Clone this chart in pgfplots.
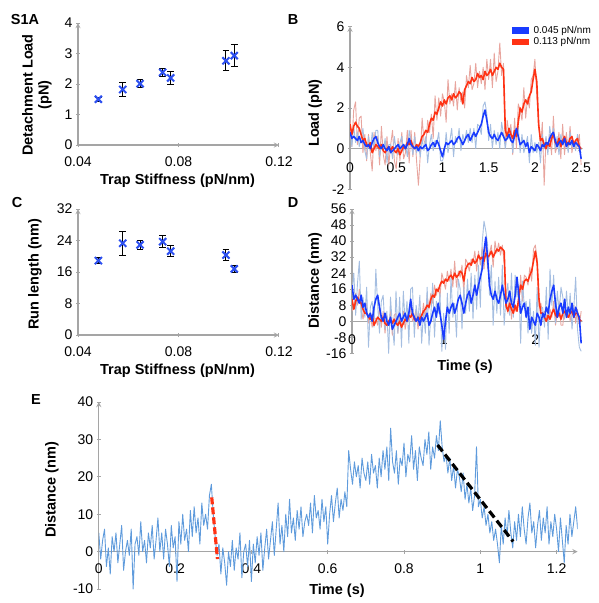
\documentclass[border=0pt]{standalone}
\usepackage{fontspec}
\setmainfont{Liberation Sans}
\usepackage{pgfplots}
\pgfplotsset{compat=1.18}
\usepackage{pgfplotstable}
\definecolor{dblue}{RGB}{25,60,255}
\definecolor{dred}{RGB}{255,50,20}
\definecolor{lblue}{RGB}{165,190,225}
\definecolor{lred}{RGB}{232,165,158}
\definecolor{eblue}{RGB}{95,155,220}
\definecolor{xblue}{RGB}{45,80,240}
\definecolor{axgray}{RGB}{165,165,165}

\pgfplotstableread{
x y e
0.0481 1.50 0.06
0.0578 1.82 0.23
0.0647 2.01 0.14
0.0737 2.38 0.14
0.0769 2.20 0.22
0.0989 2.76 0.33
0.1022 2.93 0.35
}\tabA

\pgfplotstableread{
x y e
0.0481 18.9 0.8
0.0578 23.3 3.1
0.0647 22.9 1.1
0.0737 23.7 1.5
0.0769 21.3 1.4
0.0989 20.3 1.3
0.1022 16.8 0.9
}\tabC

\pgfplotstableread{
t bs bn rs rn
0.00 0.8 1.1 1.2 1.5
0.02 0.5 0.1 0.7 0.1
0.04 0.6 1.1 1.1 1.9
0.06 0.5 0.3 1.3 2.3
0.08 0.4 0.8 1.1 0.2
0.10 0.6 0.1 1.0 1.5
0.12 0.3 0.5 0.7 1.6
0.14 0.4 1.0 0.4 -0.2
0.16 0.2 -0.1 0.5 0.7
0.18 0.1 -0.5 0.2 -0.6
0.20 0.2 0.6 0.1 0.7
0.22 0.0 -0.1 0.3 -0.2
0.24 0.3 0.8 -0.2 -1.1
0.26 0.5 0.1 0.0 0.8
0.28 0.6 0.9 0.2 -0.1
0.30 0.3 0.9 0.1 0.6
0.32 0.1 -0.4 0.0 -0.8
0.34 0.0 0.2 0.2 1.1
0.36 0.2 -0.1 -0.1 -0.3
0.38 0.0 0.5 -0.2 -0.8
0.40 -0.1 -0.7 0.0 0.6
0.42 0.1 0.2 0.1 -0.8
0.44 -0.2 0.2 -0.1 0.2
0.46 -0.1 -0.5 0.1 0.9
0.48 0.0 0.6 -0.1 -0.6
0.50 0.1 -0.1 -0.2 -1.0
0.52 0.2 -0.3 0.0 0.5
0.54 0.0 0.3 -0.3 -0.6
0.56 0.1 0.6 -0.1 0.8
0.58 0.2 -0.1 0.1 -0.5
0.60 0.0 0.2 0.0 -0.2
0.62 0.2 -0.4 0.3 0.9
0.64 0.5 0.9 0.2 -0.7
0.66 0.2 0.3 0.4 0.9
0.68 0.1 -0.3 0.1 -0.4
0.70 0.0 0.6 0.0 0.8
0.72 0.1 -0.2 0.2 -0.6
0.74 -0.1 0.2 0.1 -1.8
0.76 0.1 -0.4 0.3 -0.3
0.78 0.0 0.5 0.6 1.5
0.80 0.1 -0.1 0.7 0.4
0.82 0.2 0.6 0.9 0.2
0.84 -0.1 -0.7 0.8 1.4
0.86 0.0 0.2 1.2 0.8
0.88 0.2 0.7 1.5 1.7
0.90 0.3 -0.1 1.4 0.5
0.92 0.1 0.4 1.8 2.6
0.94 0.4 0.3 1.7 1.4
0.96 0.2 0.8 2.0 2.5
0.98 -0.1 -0.6 2.3 1.6
1.00 -0.4 -0.6 2.1 2.7
1.02 0.0 -0.3 2.4 2.3
1.04 0.3 0.8 2.2 1.3
1.06 0.2 -0.2 2.5 3.4
1.08 0.3 0.4 2.6 2.2
1.10 0.4 1.0 2.4 2.7
1.12 0.2 -0.4 2.7 2.1
1.14 0.3 0.6 2.5 3.3
1.16 0.5 0.3 2.6 1.9
1.18 0.6 1.0 2.8 3.0
1.20 0.4 -0.1 2.7 2.3
1.22 0.2 0.7 2.2 2.8
1.24 0.4 0.3 2.9 2.0
1.26 0.6 0.9 3.1 3.6
1.28 0.7 0.3 3.3 3.0
1.30 0.4 1.0 3.2 4.1
1.32 0.6 0.3 3.5 2.9
1.34 0.8 1.0 3.3 3.2
1.36 0.6 0.0 3.4 4.2
1.38 0.8 1.2 3.7 3.0
1.40 1.0 1.1 3.5 3.8
1.42 1.2 0.7 3.6 3.2
1.44 1.6 2.1 3.4 4.0
1.46 1.9 2.3 3.8 2.9
1.48 1.4 1.7 3.6 4.4
1.50 0.8 0.4 3.7 3.4
1.52 0.6 1.2 3.9 4.4
1.54 0.5 0.0 3.6 3.0
1.56 0.7 0.9 3.8 4.7
1.58 0.5 0.2 4.0 3.3
1.60 0.4 0.8 3.9 3.8
1.62 0.6 0.0 4.2 5.2
1.64 0.8 1.3 4.0 3.6
1.66 0.6 0.7 3.9 4.2
1.68 0.4 0.0 0.9 0.0
1.70 0.5 0.8 0.6 1.4
1.72 0.7 0.5 1.0 0.7
1.74 0.4 1.0 0.7 1.2
1.76 0.3 -0.2 0.5 -0.3
1.78 0.6 0.8 0.9 1.5
1.80 1.0 0.7 0.6 0.0
1.82 0.6 1.1 1.3 2.2
1.84 0.2 -0.2 2.0 1.9
1.86 0.3 0.7 1.8 1.4
1.88 0.4 -0.2 2.2 3.0
1.90 0.1 0.2 2.4 1.5
1.92 0.3 0.6 2.2 2.5
1.94 -0.2 -0.7 2.6 2.0
1.96 0.1 0.7 2.8 3.4
1.98 0.0 -0.2 3.4 3.6
2.00 -0.1 0.3 3.9 4.4
2.02 0.2 -0.2 3.3 2.6
2.04 0.1 0.3 1.2 1.4
2.06 -0.1 -0.7 0.4 0.0
2.08 0.2 0.7 0.5 1.3
2.10 0.1 0.0 0.2 -1.8
2.12 0.3 0.6 0.0 0.5
2.14 0.2 -0.3 0.3 0.0
2.16 0.5 1.1 0.1 0.7
2.18 0.7 0.4 0.5 -0.3
2.20 0.8 1.0 0.7 1.6
2.22 0.4 0.0 0.3 -0.2
2.24 0.1 0.6 0.2 0.1
2.26 0.3 -0.3 0.5 0.8
2.28 0.4 0.7 0.1 -0.5
2.30 0.2 0.3 0.4 1.2
2.32 0.5 0.3 0.6 -0.3
2.34 0.1 0.5 0.3 0.8
2.36 0.3 -0.2 0.2 -0.1
2.38 0.2 0.8 0.5 1.1
2.40 0.4 0.1 0.6 -0.2
2.42 0.1 0.3 0.2 0.4
2.44 0.3 -0.1 0.4 0.0
2.46 0.2 0.7 0.5 0.1
2.48 0.1 0.0 0.1 0.7
2.50 -0.5 -0.2 0.0 -0.8
}\tabB

\pgfplotstableread{
t bs bn rs rn
0.00 18 15 11 5
0.02 11 24 6 7
0.04 13 3 10 14
0.06 11 19 12 8
0.08 9 30 10 16
0.10 13 1 9 7
0.12 7 12 6 1
0.14 9 2 4 7
0.16 4 17 4 9
0.18 2 -13 2 -1
0.20 4 7 1 3
0.22 0 10 3 -3
0.24 7 -3 -2 2
0.26 11 26 0 1
0.28 13 8 2 -2
0.30 7 -6 1 7
0.32 2 10 0 -3
0.34 0 13 2 5
0.36 4 -4 -1 -6
0.38 0 5 -2 3
0.40 -2 -16 0 -2
0.42 2 12 1 5
0.44 -4 -2 -1 -7
0.46 -2 -12 1 3
0.48 0 15 -1 4
0.50 2 -6 -2 -6
0.52 4 12 0 3
0.54 0 -13 -3 -4
0.56 2 15 -1 5
0.58 4 -1 1 -4
0.60 0 10 0 2
0.62 4 -11 3 0
0.64 11 16 2 7
0.66 4 17 4 0
0.68 2 -8 1 2
0.70 0 8 0 6
0.72 2 0 2 -4
0.74 -2 13 1 4
0.76 2 -11 3 1
0.78 0 5 5 9
0.80 2 -6 6 1
0.82 4 17 8 13
0.84 -2 -12 7 6
0.86 0 3 11 14
0.88 4 19 13 9
0.90 7 -8 12 18
0.92 2 10 16 13
0.94 9 4 15 17
0.96 4 14 18 12
0.98 -2 -15 20 24
1.00 -9 4 19 20
1.02 0 -14 21 16
1.04 7 14 20 25
1.06 4 -6 22 20
1.08 7 22 23 26
1.10 9 2 21 17
1.12 4 9 24 30
1.14 7 -8 22 17
1.16 11 21 23 25
1.18 13 16 25 22
1.20 9 -4 24 28
1.22 4 17 20 14
1.24 9 4 26 31
1.26 13 21 28 29
1.28 15 5 29 25
1.30 9 24 28 31
1.32 13 1 31 29
1.34 18 23 29 35
1.36 13 6 30 25
1.38 18 28 33 35
1.40 22 7 31 28
1.42 26 39 32 37
1.44 35 50 30 26
1.46 42 45 34 38
1.48 31 38 32 26
1.50 18 13 33 34
1.52 13 28 35 38
1.54 11 -2 32 27
1.56 15 20 34 40
1.58 11 4 36 34
1.60 9 22 35 39
1.62 13 3 37 33
1.64 18 28 36 38
1.66 13 -2 35 29
1.68 9 12 8 13
1.70 11 19 5 4
1.72 15 3 9 12
1.74 9 24 6 1
1.76 7 2 4 10
1.78 13 23 8 5
1.80 22 12 5 7
1.82 13 18 12 8
1.84 4 -11 18 23
1.86 7 20 16 10
1.88 9 7 20 23
1.90 2 10 21 22
1.92 7 -6 20 18
1.94 -4 11 23 27
1.96 2 -6 25 20
1.98 0 5 30 36
2.00 -2 -12 35 38
2.02 4 17 29 31
2.04 2 -13 11 7
2.06 -2 6 4 9
2.08 4 7 4 3
2.10 2 -3 2 5
2.12 7 17 0 3
2.14 4 -9 3 -1
2.16 11 26 1 6
2.18 15 8 4 2
2.20 18 23 6 10
2.22 9 -1 3 -2
2.24 2 15 2 4
2.26 7 4 4 10
2.28 9 17 1 -2
2.30 4 12 4 -2
2.32 11 1 5 9
2.34 2 15 3 2
2.36 7 2 2 7
2.38 4 14 4 0
2.40 9 -4 5 8
2.42 2 7 2 8
2.44 7 22 4 -1
2.46 4 -4 4 6
2.48 2 -13 1 -2
2.50 -11 -15 0 5
}\tabD

\pgfplotstableread{
t d
0.000 5
0.005 -2
0.010 3
0.015 6
0.020 -4
0.025 1
0.030 -6
0.035 4
0.040 0
0.045 5
0.050 -3
0.055 2
0.060 7
0.065 -5
0.070 0
0.075 3
0.080 -1
0.085 6
0.090 -10
0.095 2
0.100 4
0.105 -1
0.110 8
0.115 0
0.120 3
0.125 -3
0.130 5
0.135 1
0.140 7
0.145 -2
0.150 3
0.155 9
0.160 0
0.165 5
0.170 -2
0.175 6
0.180 2
0.185 -4
0.190 7
0.195 1
0.200 4
0.205 -8
0.210 8
0.215 2
0.220 10
0.225 3
0.230 6
0.235 0
0.240 11
0.245 4
0.250 12
0.255 5
0.260 9
0.265 2
0.270 13
0.275 7
0.280 10
0.285 6
0.290 15
0.295 18
0.300 10
0.305 4
0.310 -1
0.315 2
0.320 -6
0.325 1
0.330 -3
0.335 -9
0.340 0
0.345 -4
0.350 3
0.355 -5
0.360 1
0.365 -2
0.370 5
0.375 -7
0.380 0
0.385 2
0.390 -4
0.395 3
0.400 -8
0.405 2
0.410 -3
0.415 4
0.420 -1
0.425 5
0.430 -5
0.435 1
0.440 6
0.445 -2
0.450 3
0.455 8
0.460 -1
0.465 6
0.470 13
0.475 2
0.480 7
0.485 0
0.490 10
0.495 4
0.500 14
0.505 5
0.510 9
0.515 3
0.520 11
0.525 6
0.530 12
0.535 4
0.540 8
0.545 10
0.550 7
0.555 13
0.560 5
0.565 15
0.570 9
0.575 11
0.580 6
0.585 14
0.590 8
0.595 12
0.600 2
0.605 10
0.610 15
0.615 8
0.620 13
0.625 17
0.630 9
0.635 14
0.640 11
0.645 16
0.650 12
0.655 27
0.660 22
0.665 18
0.670 24
0.675 20
0.680 23
0.685 17
0.690 25
0.695 21
0.700 19
0.705 24
0.710 18
0.715 26
0.720 21
0.725 23
0.730 17
0.735 25
0.740 20
0.745 27
0.750 22
0.755 28
0.760 19
0.765 33
0.770 24
0.775 21
0.780 27
0.785 18
0.790 25
0.795 23
0.800 29
0.805 20
0.810 26
0.815 24
0.820 31
0.825 22
0.830 27
0.835 19
0.840 28
0.845 25
0.850 23
0.855 30
0.860 26
0.865 32
0.870 22
0.875 28
0.880 25
0.885 31
0.890 27
0.895 35
0.900 28
0.905 24
0.910 26
0.915 21
0.920 25
0.925 19
0.930 23
0.935 17
0.940 22
0.945 20
0.950 16
0.955 21
0.960 14
0.965 18
0.970 13
0.975 17
0.980 11
0.985 15
0.990 28
0.995 12
1.000 14
1.005 9
1.010 12
1.015 7
1.020 10
1.025 5
1.030 8
1.035 3
1.040 6
1.045 2
1.050 -3
1.055 7
1.060 2
1.065 9
1.070 4
1.075 11
1.080 5
1.085 1
1.090 8
1.095 3
1.100 10
1.105 4
1.110 12
1.115 6
1.120 2
1.125 9
1.130 13
1.135 5
1.140 8
1.145 1
1.150 7
1.155 11
1.160 3
1.165 9
1.170 5
1.175 12
1.180 2
1.185 8
1.190 4
1.195 10
1.200 6
1.205 0
1.210 9
1.215 3
1.220 -3
1.225 7
1.230 2
1.235 10
1.240 4
1.245 8
1.250 12
1.255 6
}\tabE

\pgfplotsset{
  myax/.style={
    scale only axis, anchor=south west,
    axis line style={axgray, line width=1.3pt, -},
    tick style={axgray, line width=1pt},
    tick align=outside, major tick length=4pt,
    tick label style={font=\fontsize{14}{16}\selectfont, text=black},
    hide obscured x ticks=false, hide obscured y ticks=false,
    scaled ticks=false,
  },
  errplot/.style={only marks, mark=x, mark size=5pt,
    mark options={xblue, line width=2pt},
    error bars/.cd, y dir=both, y explicit,
    error bar style={black, line width=1pt},
    error mark options={rotate=90, black, mark size=3.4pt, line width=1pt}},
}
\tikzset{lab/.style={font=\bfseries\fontsize{14.5}{16}\selectfont}}

\begin{document}
\begin{tikzpicture}[x=1pt,y=1pt]
\path[use as bounding box] (0,0) rectangle (598,-603);

% Panel A
\begin{axis}[myax, at={(78pt,-145pt)}, width=201pt, height=122pt,
  xmin=0.04, xmax=0.12, ymin=0, ymax=4, axis lines=left,
  xtick={0.04,0.08,0.12}, xticklabels={0.04,0.08,0.12},
  xticklabel style={yshift=-6pt},
  ytick={0,1,2,3,4}, yticklabels={0,1,2,3,4}, clip=false]
\addplot[errplot] table[x=x,y=y,y error=e] {\tabA};
\end{axis}

% Panel C
\begin{axis}[myax, at={(78pt,-335pt)}, width=201pt, height=126pt,
  xmin=0.04, xmax=0.12, ymin=0, ymax=32, axis lines=left,
  xtick={0.04,0.08,0.12}, xticklabels={0.04,0.08,0.12},
  xticklabel style={yshift=-6pt},
  ytick={0,8,16,24,32}, yticklabels={0,8,16,24,32}, clip=false]
\addplot[errplot] table[x=x,y=y,y error=e] {\tabC};
\end{axis}

% Panel B
\begin{axis}[myax, at={(350pt,-189.3pt)}, width=233pt, height=162.6pt,
  xmin=0, xmax=2.52, ymin=-2, ymax=6,
  axis y line=left, axis x line=middle, x tick style={draw=none},
  xtick={0,0.5,1,1.5,2,2.5}, xticklabels={0,0.5,1,1.5,2,2.5},
  xticklabel style={yshift=-9pt},
  ytick={-2,0,2,4,6}, yticklabels={-2,0,2,4,6},
  legend style={at={(axis description cs:0.68,1.015)}, anchor=north west,
    draw=none, fill=none, font=\fontsize{10}{11}\selectfont,
    inner sep=0pt, row sep=0pt, nodes={inner sep=1.5pt}},
  legend cell align=left,
  legend image code/.code={\draw[#1, line width=6.5pt] (0pt,0pt) -- (17pt,0pt);}]
\addlegendimage{dblue}
\addlegendentry{0.045 pN/nm}
\addlegendimage{dred}
\addlegendentry{0.113 pN/nm}
\addplot[lred, line width=0.9pt, line join=round, forget plot] table[x=t,y=rn] {\tabB};
\addplot[lblue, line width=0.9pt, line join=round, forget plot] table[x=t,y=bn] {\tabB};
\addplot[dred, line width=1.6pt, line join=round, forget plot] table[x=t,y=rs] {\tabB};
\addplot[dblue, line width=1.6pt, line join=round, forget plot] table[x=t,y=bs] {\tabB};
\end{axis}

% Panel D
\begin{axis}[myax, at={(352pt,-353.3pt)}, width=231pt, height=144.3pt,
  xmin=0, xmax=2.52, ymin=-16, ymax=56,
  axis y line=left, axis x line=middle, x tick style={draw=none},
  xtick={0,1,2}, xticklabels={0,1,2},
  xticklabel style={yshift=-8pt},
  ytick={-16,-8,0,8,16,24,32,40,48,56},
  yticklabels={-16,-8,0,8,16,24,32,40,48,56}]
\addplot[lred, line width=0.9pt, line join=round] table[x=t,y=rn] {\tabD};
\addplot[lblue, line width=0.9pt, line join=round] table[x=t,y=bn] {\tabD};
\addplot[dred, line width=1.6pt, line join=round] table[x=t,y=rs] {\tabD};
\addplot[dblue, line width=1.6pt, line join=round] table[x=t,y=bs] {\tabD};
\end{axis}

% Panel E
\begin{axis}[myax, at={(98.8pt,-589pt)}, width=478.8pt, height=187pt,
  xmin=0, xmax=1.255, ymin=-10, ymax=40,
  axis y line=left, axis x line=middle,
  xtick={0,0.2,0.4,0.6,0.8,1,1.2}, xticklabels={0,0.2,0.4,0.6,0.8,1,1.2},
  xticklabel style={yshift=-7pt},
  ytick={-10,0,10,20,30,40}, yticklabels={-10,0,10,20,30,40}]
\addplot[eblue, line width=0.9pt, line join=round] table[x=t,y=d] {\tabE};
\addplot[dred, line width=3.2pt, dash pattern=on 7pt off 3pt] coordinates {(0.296,14.5) (0.311,-2)};
\addplot[black, line width=3.2pt, dash pattern=on 8pt off 4pt] coordinates {(0.888,28.5) (1.086,2.7)};
\end{axis}

% labels
\node[lab] at (25,-20) {S1A};
\node[lab] at (293,-20) {B};
\node[lab] at (17,-203) {C};
\node[lab] at (293,-203) {D};
\node[lab] at (36,-400) {E};
\node[lab, rotate=90, align=center] at (37,-95) {Detachment Load\\(pN)};
\node[lab] at (177.5,-181) {Trap Stiffness (pN/nm)};
\node[lab, rotate=90] at (35,-274) {Run length (nm)};
\node[lab] at (177.5,-371) {Trap Stiffness (pN/nm)};
\node[lab, rotate=90] at (315,-113) {Load (pN)};
\node[lab, rotate=90] at (315,-281) {Distance (nm)};
\node[lab] at (465,-367) {Time (s)};
\node[lab, rotate=90] at (52,-490) {Distance (nm)};
\node[lab] at (337,-591) {Time (s)};
\end{tikzpicture}
\end{document}
